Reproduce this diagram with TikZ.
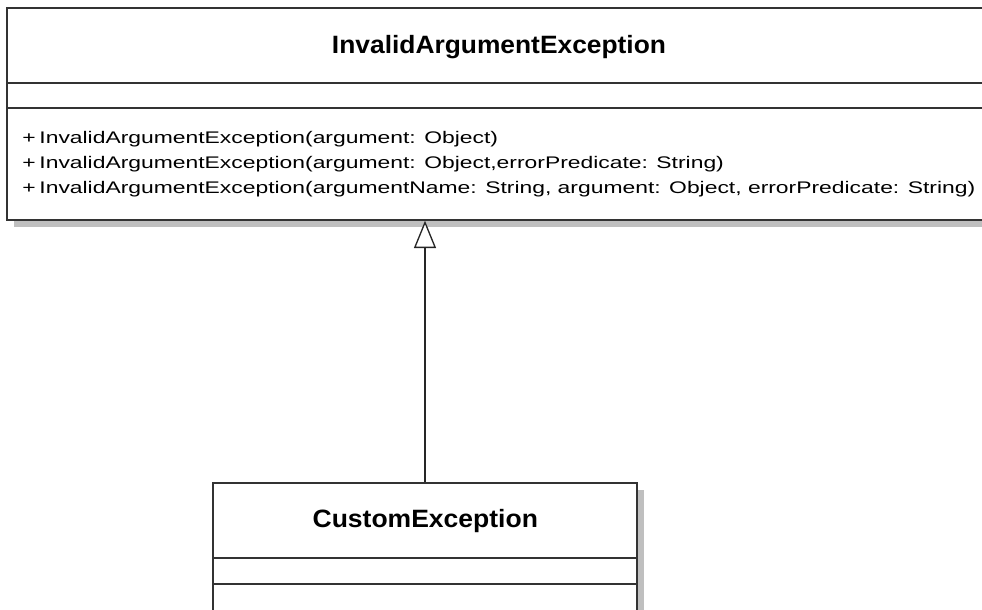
\documentclass[tikz,border=0pt]{standalone}
\usepackage{fontspec}
\setmainfont{Liberation Sans}
\usetikzlibrary{arrows.meta,shadows}
\newfontfamily\umlfont{Liberation Sans}
\newcommand\methodfont{\umlfont\fontsize{12.6pt}{15pt}\selectfont}
\newcommand\titlefont{\umlfont\bfseries\fontsize{18.8pt}{22pt}\selectfont}
\newsavebox\longmethod
\newdimen\longmethodwd
\begin{document}
\sbox\longmethod{\methodfont +\,InvalidArgumentException(argumentName: String, argument: Object, errorPredicate: String)}%
\longmethodwd=\wd\longmethod
\pgfmathsetmacro\mscale{714.75/\longmethodwd}%
\begin{tikzpicture}[x=0.75pt,y=-0.75pt,
  classbox/.style={draw=black!80, line width=1.1pt, fill=white, rectangle, inner sep=0pt,
    drop shadow={shadow xshift=5pt, shadow yshift=-5pt, fill=black!25, opacity=1}},
  divider/.style={draw=black!80, line width=1.1pt},
  method/.style={anchor=base west, inner sep=0pt},
  classname/.style={anchor=base, inner sep=0pt},
  inherits/.style={draw=black!85, line width=1pt,
    -{Triangle[open, length=20.5pt, width=16.5pt, fill=white]}}]
  \useasboundingbox (0,0) rectangle (982,610);
  \clip (0,0) rectangle (982,610);

  % parent class
  \node[classbox, minimum width=744.75pt, minimum height=159pt] (inv) at (503.5,114) {};
  \draw[divider] (inv.west |- 0,83) -- (inv.east |- 0,83);
  \draw[divider] (inv.west |- 0,108) -- (inv.east |- 0,108);
  \node[classname] (invname) at (499,54)
    {\resizebox{250.5pt}{\height}{\titlefont InvalidArgumentException}};
  \node[method] (m1) at (22,143.3)
    {\scalebox{\mscale}[1]{\methodfont +\,InvalidArgumentException(argument: Object)}};
  \node[method] (m2) at (22,168.3)
    {\scalebox{\mscale}[1]{\methodfont +\,InvalidArgumentException(argument: Object,errorPredicate: String)}};
  \node[method] (m3) at (22,193)
    {\resizebox{714.75pt}{\height}{\usebox\longmethod}};

  % subclass
  \node[classbox, minimum width=318pt, minimum height=110.25pt] (cust) at (425,556.5) {};
  \draw[divider] (cust.west |- 0,558) -- (cust.east |- 0,558);
  \draw[divider] (cust.west |- 0,584) -- (cust.east |- 0,584);
  \node[classname] (custname) at (425.3,527)
    {\resizebox{169pt}{\height}{\titlefont CustomException}};

  % generalization
  \draw[inherits] (cust.north) -- (cust.north |- inv.south);
\end{tikzpicture}
\end{document}
